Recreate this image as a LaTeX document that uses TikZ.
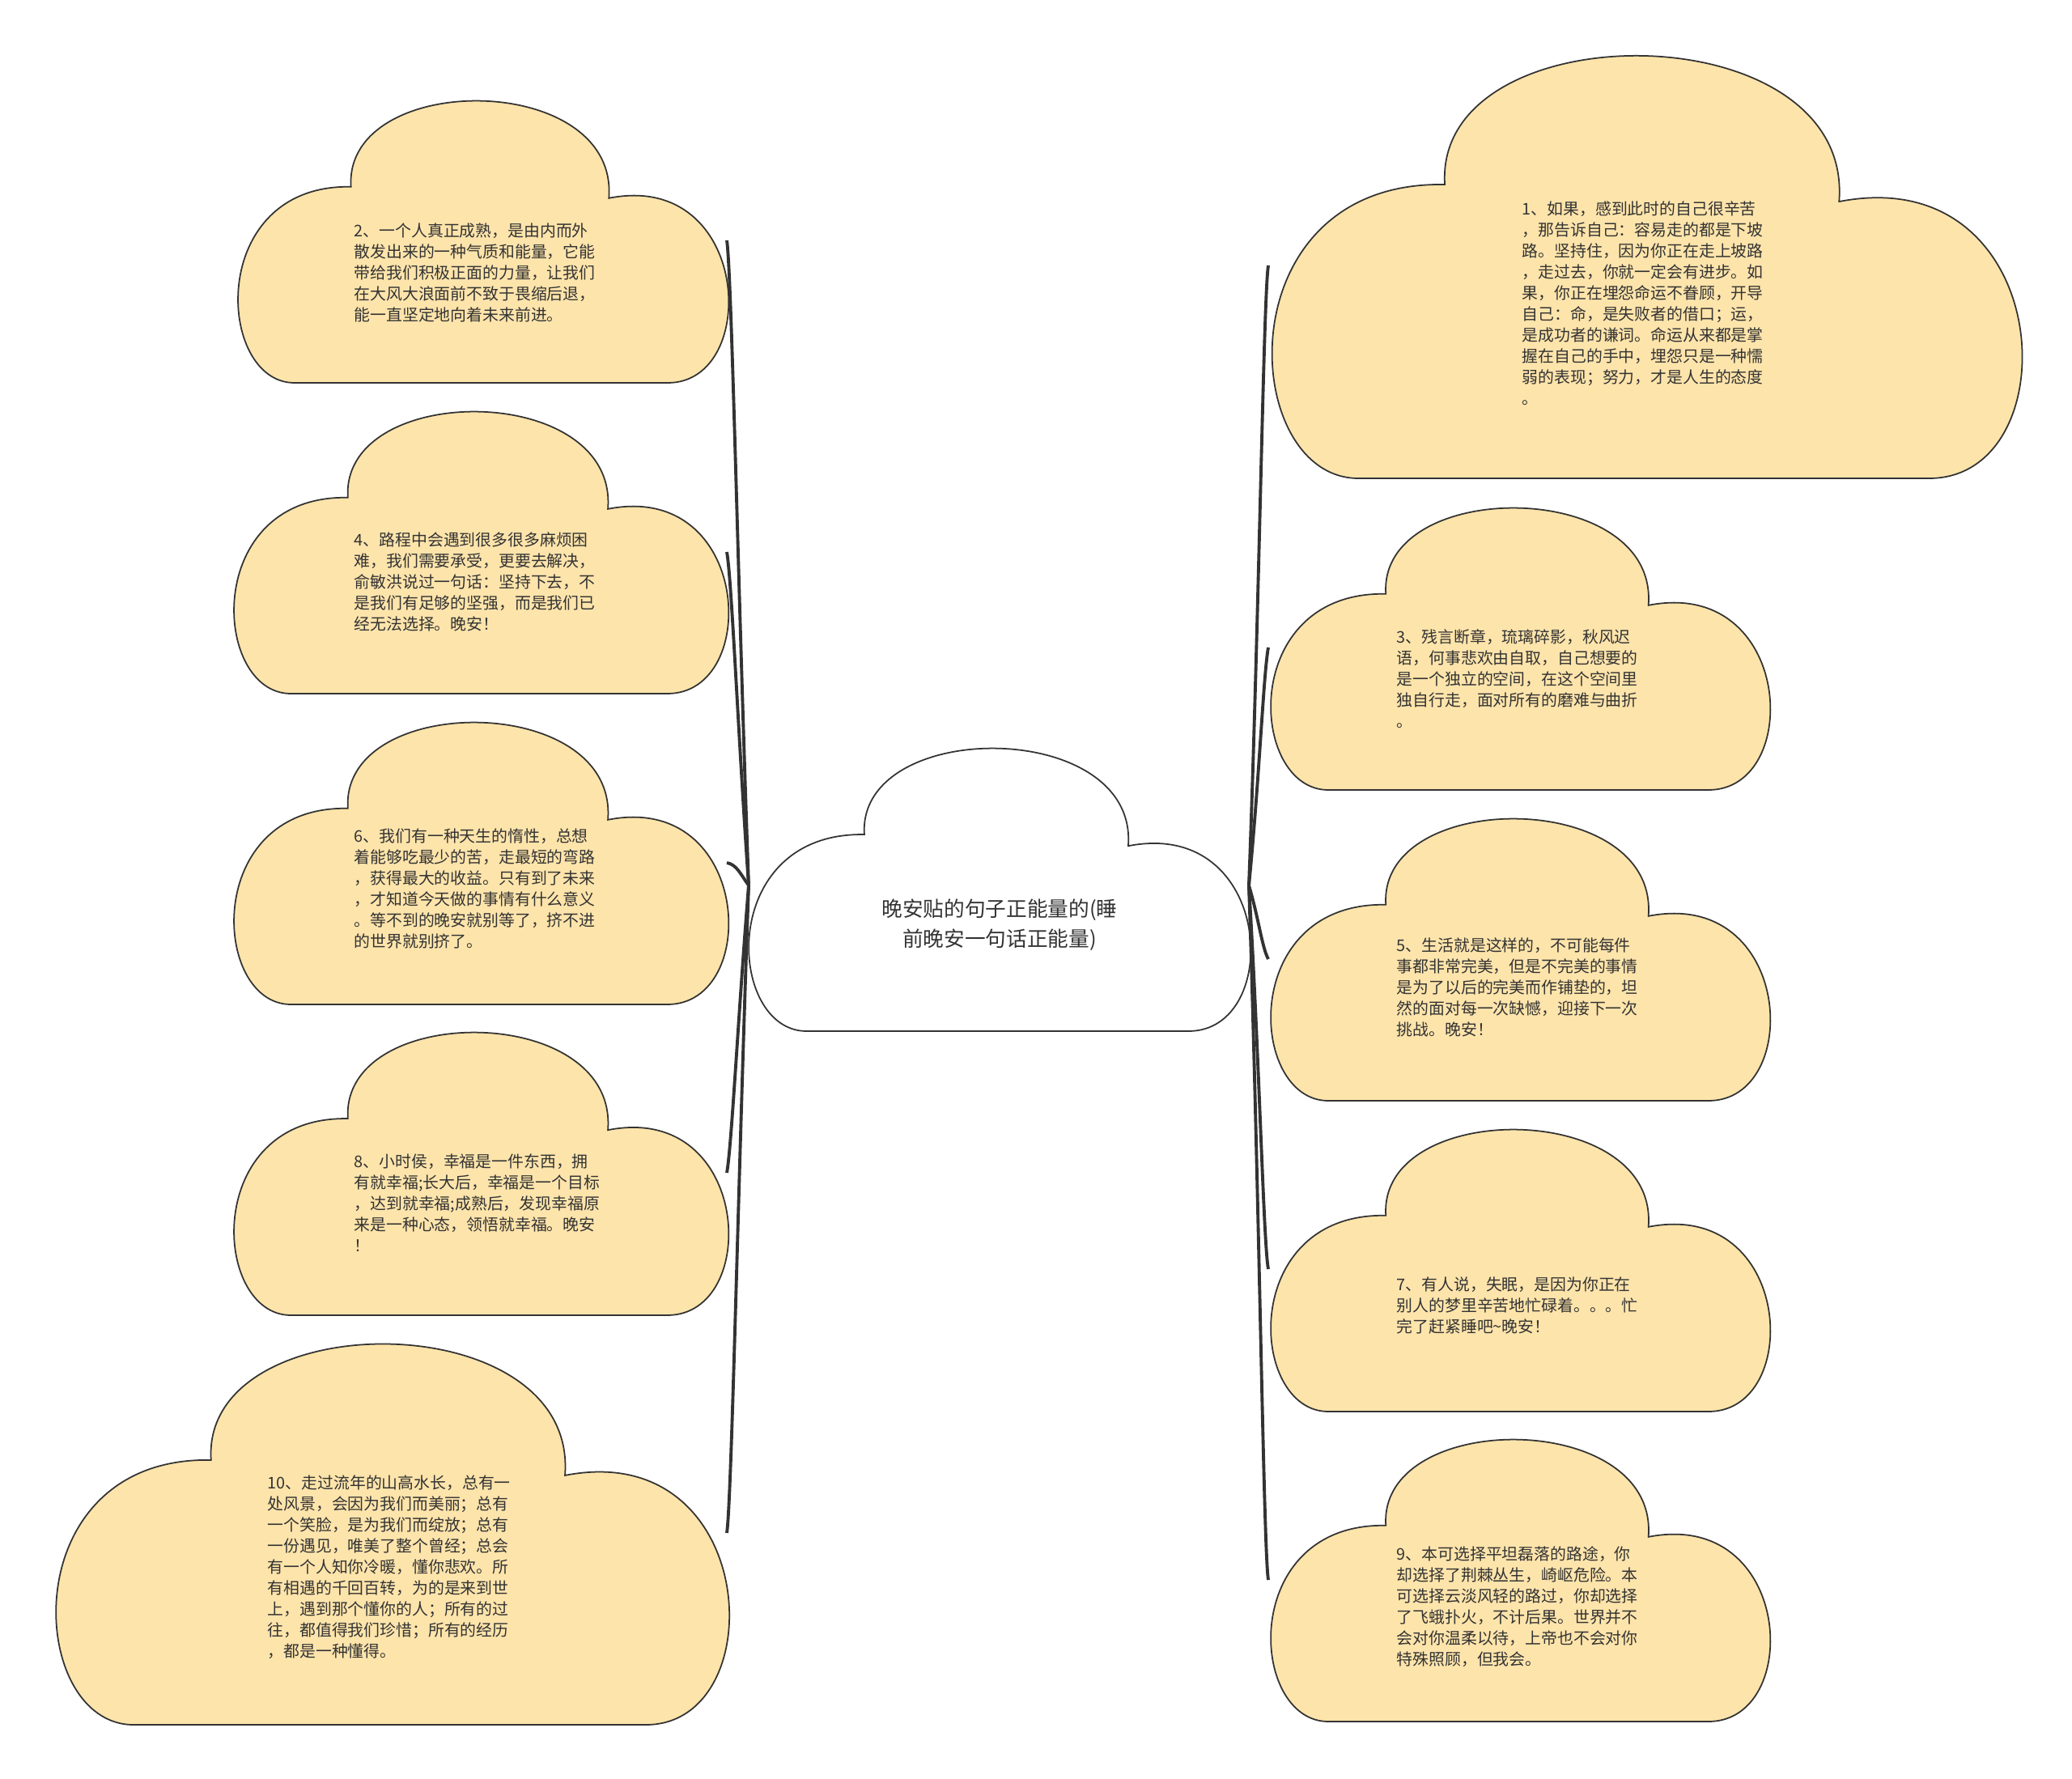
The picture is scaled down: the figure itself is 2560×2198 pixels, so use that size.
\documentclass[tikz,border=0pt]{standalone}
\usepackage{fontspec}
\setmainfont{Noto Sans CJK SC}

\definecolor{cloudfill}{HTML}{FDE4AB}
\definecolor{inkgray}{HTML}{333333}

\tikzset{
	cloudline/.style={draw=inkgray, line width=0.5pt},
	leaf/.style={anchor=north west, inner sep=0pt, align=left, text=inkgray, font=\fontsize{5.65pt}{7.4pt}\selectfont},
	rootlabel/.style={inner sep=0pt, align=center, text=inkgray, font=\fontsize{7.3pt}{10.5pt}\selectfont},
	branch/.style={draw=inkgray, line width=1.1pt},
}

% cloud in the box left, top, right, bottom (pixel units), fill colour
\newcommand{\cloud}[5]{%
	\begin{scope}[shift={(#1,#2)}, xscale={#3-#1}, yscale={#4-#2}]
	\draw[cloudline, fill=#5] (0.12,1) .. controls (-0.04,1) and (-0.06,0.30) .. (0.235,0.31)
		.. controls (0.22,-0.10) and (0.78,-0.10) .. (0.76,0.35)
		.. controls (1.05,0.25) and (1.07,1) .. (0.88,1) -- cycle;
	\end{scope}}

\begin{document}
\begin{tikzpicture}[x=0.1mm, y=-0.1mm]
	\fill[white] (0,0) rectangle (2560,2198);
	\useasboundingbox (0,0) rectangle (2560,2198);
	
	\begin{scope}
	\cloud{922}{922}{1543}{1274}{white}
	\cloud{291}{122}{898}{473}{cloudfill}
	\cloud{286}{506}{898}{857}{cloudfill}
	\cloud{286}{890}{898}{1241}{cloudfill}
	\cloud{286}{1273}{898}{1625}{cloudfill}
	\cloud{65}{1657}{898}{2131}{cloudfill}
	\cloud{1567}{65}{2495}{591}{cloudfill}
	\cloud{1567}{625}{2185}{976}{cloudfill}
	\cloud{1567}{1009}{2185}{1360}{cloudfill}
	\cloud{1567}{1393}{2185}{1744}{cloudfill}
	\cloud{1567}{1776}{2185}{2127}{cloudfill}
	\end{scope}
	
	\coordinate (rootW) at (925,1094);
	\coordinate (rootE) at (1543,1094);
	\coordinate (n2) at (898,297);
	\coordinate (n4) at (898,682);
	\coordinate (n6) at (898,1066);
	\coordinate (n8) at (898,1449);
	\coordinate (n10) at (898,1894);
	\coordinate (n1) at (1567,328);
	\coordinate (n3) at (1567,800);
	\coordinate (n5) at (1567,1185);
	\coordinate (n7) at (1567,1568);
	\coordinate (n9) at (1567,1952);
	
	\begin{scope}[branch]
	\draw (rootW) .. controls +(-13,-359) and +(6,40) .. (n2);
	\draw (rootW) .. controls +(-13,-185) and +(6,33) .. (n4);
	\draw (rootW) .. controls +(-10,-14) and +(12,2) .. (n6);
	\draw (rootW) .. controls +(-13,160) and +(6,-33) .. (n8);
	\draw (rootW) .. controls +(-13,360) and +(6,-40) .. (n10);
	\draw (rootE) .. controls +(13,-345) and +(-6,40) .. (n1);
	\draw (rootE) .. controls +(13,-132) and +(-6,33) .. (n3);
	\draw (rootE) .. controls +(12,40) and +(-8,-15) .. (n5);
	\draw (rootE) .. controls +(13,213) and +(-6,-33) .. (n7);
	\draw (rootE) .. controls +(13,386) and +(-6,-40) .. (n9);
	\end{scope}
	
	\node (root) at (1235,1143) [rootlabel] {晚安贴的句子正能量的(睡\\前晚安一句话正能量)};
	
	\node (t2) at (437,275) [leaf] {2、一个人真正成熟，是由内而外\\散发出来的一种气质和能量，它能\\带给我们积极正面的力量，让我们\\在大风大浪面前不致于畏缩后退，\\能一直坚定地向着未来前进。};
	\node (t4) at (437,657) [leaf] {4、路程中会遇到很多很多麻烦困\\难，我们需要承受，更要去解决，\\俞敏洪说过一句话：坚持下去，不\\是我们有足够的坚强，而是我们已\\经无法选择。晚安！};
	\node (t6) at (437,1023) [leaf] {6、我们有一种天生的惰性，总想\\着能够吃最少的苦，走最短的弯路\\，获得最大的收益。只有到了未来\\，才知道今天做的事情有什么意义\\。等不到的晚安就别等了，挤不进\\的世界就别挤了。};
	\node (t8) at (437,1425) [leaf] {8、小时侯，幸福是一件东西，拥\\有就幸福;长大后，幸福是一个目标\\，达到就幸福;成熟后，发现幸福原\\来是一种心态，领悟就幸福。晚安\\！};
	\node (t10) at (330,1822) [leaf] {10、走过流年的山高水长，总有一\\处风景，会因为我们而美丽；总有\\一个笑脸，是为我们而绽放；总有\\一份遇见，唯美了整个曾经；总会\\有一个人知你冷暖，懂你悲欢。所\\有相遇的千回百转，为的是来到世\\上，遇到那个懂你的人；所有的过\\往，都值得我们珍惜；所有的经历\\，都是一种懂得。};
	
	\node (t1) at (1880,248) [leaf] {1、如果，感到此时的自己很辛苦\\，那告诉自己：容易走的都是下坡\\路。坚持住，因为你正在走上坡路\\，走过去，你就一定会有进步。如\\果，你正在埋怨命运不眷顾，开导\\自己：命，是失败者的借口；运，\\是成功者的谦词。命运从来都是掌\\握在自己的手中，埋怨只是一种懦\\弱的表现；努力，才是人生的态度\\。};
	\node (t3) at (1725,777) [leaf] {3、残言断章，琉璃碎影，秋风迟\\语，何事悲欢由自取，自己想要的\\是一个独立的空间，在这个空间里\\独自行走，面对所有的磨难与曲折\\。};
	\node (t5) at (1725,1158) [leaf] {5、生活就是这样的，不可能每件\\事都非常完美，但是不完美的事情\\是为了以后的完美而作铺垫的，坦\\然的面对每一次缺憾，迎接下一次\\挑战。晚安！};
	\node (t7) at (1725,1577) [leaf] {7、有人说，失眠，是因为你正在\\别人的梦里辛苦地忙碌着。。。忙\\完了赶紧睡吧\textasciitilde 晚安！};
	\node (t9) at (1725,1910) [leaf] {9、本可选择平坦磊落的路途，你\\却选择了荆棘丛生，崎岖危险。本\\可选择云淡风轻的路过，你却选择\\了飞蛾扑火，不计后果。世界并不\\会对你温柔以待，上帝也不会对你\\特殊照顾，但我会。};
\end{tikzpicture}
\end{document}
